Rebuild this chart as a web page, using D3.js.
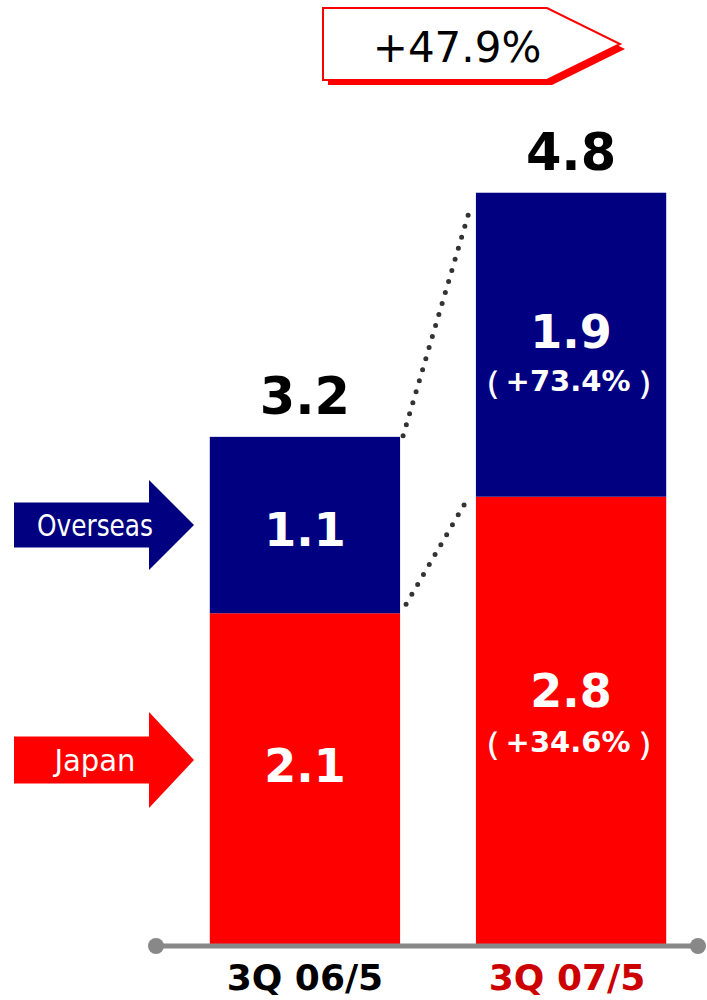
<!DOCTYPE html>
<html><head><meta charset="utf-8">
<script src="https://cdn.jsdelivr.net/npm/d3@7"></script>
<style>html,body{margin:0;padding:0;background:#fff;}svg{display:block;}</style>
</head><body>
<script>
const categories = ["3Q 06/5", "3Q 07/5"];
const japan = [2.10, 2.84];
const overseas = [1.12, 1.93];
const totalLabels = ["3.2", "4.8"];
const japanLabels = ["2.1", "2.8"];
const overseasLabels = ["1.1", "1.9"];
const japanGrowth = ["", "+34.6%"];
const overseasGrowth = ["", "+73.4%"];
const totalGrowth = "+47.9%";
const seriesNames = ["Japan", "Overseas"];

const W = 707, H = 1000;
const FONT = "'DejaVu Sans', Verdana, sans-serif";
const RED = "#ff0000", NAVY = "#000080";

const svg = d3.select("body").append("svg").attr("width", W).attr("height", H);

const x = d3.scaleBand().domain(categories).range([172, 704]).paddingInner(0.285).paddingOuter(0.142);
const y = d3.scaleLinear().domain([0, 6]).range([944, -1]);

const data = categories.map((c, i) => ({c, i, j: japan[i], o: overseas[i], t: japan[i] + overseas[i]}));

// bars
const g = svg.append("g");
g.selectAll("rect.jp").data(data).join("rect")
  .attr("x", d => x(d.c)).attr("width", x.bandwidth())
  .attr("y", d => y(d.j)).attr("height", d => y(0) - y(d.j)).attr("fill", RED);
g.selectAll("rect.os").data(data).join("rect")
  .attr("x", d => x(d.c)).attr("width", x.bandwidth())
  .attr("y", d => y(d.t)).attr("height", d => y(d.j) - y(d.t)).attr("fill", NAVY);

// dotted connectors
const d0 = data[0], d1 = data[1];
const x0r = x(d0.c) + x.bandwidth(), x1l = x(d1.c);
const dots = svg.append("g").attr("stroke", "#333").attr("stroke-width", 5)
  .attr("stroke-linecap", "round").attr("stroke-dasharray", "0 11.5").attr("fill", "none");
dots.append("line").attr("x1", x0r + 3).attr("y1", y(d0.t) - 1).attr("x2", x1l - 5).attr("y2", y(d1.t) + 13);
dots.append("line").attr("x1", x0r + 6).attr("y1", y(d0.j) - 9).attr("x2", x1l - 10).attr("y2", y(d1.j) + 5);

// axis line
const ax = svg.append("g");
ax.append("line").attr("x1", 155).attr("x2", 698).attr("y1", 946).attr("y2", 946)
  .attr("stroke", "#888").attr("stroke-width", 5);
ax.append("circle").attr("cx", 156).attr("cy", 946).attr("r", 8).attr("fill", "#888");
ax.append("circle").attr("cx", 698).attr("cy", 946).attr("r", 8).attr("fill", "#888");
ax.selectAll("text.cat").data(data).join("text")
  .attr("x", d => x(d.c) + x.bandwidth() / 2 + (d.i === 0 ? 0 : -4)).attr("y", 990)
  .attr("text-anchor", "middle").attr("font-family", FONT).attr("font-weight", "bold")
  .attr("font-size", 36).attr("fill", (d, i) => i === 0 ? "#000" : "#cc0000")
  .text(d => d.c);

// total labels
svg.selectAll("text.tot").data(data).join("text")
  .attr("x", d => x(d.c) + x.bandwidth() / 2).attr("y", d => y(d.t) - 23)
  .attr("text-anchor", "middle").attr("font-family", FONT).attr("font-weight", "bold")
  .attr("font-size", 51).attr("fill", "#000").text((d, i) => totalLabels[i]);

// inside labels
function inside(key, labels, growth, offSingle, offVal, offGrowth) {
  data.forEach((d, i) => {
    const top = key === "j" ? y(d.j) : y(d.t);
    const bot = key === "j" ? y(0) : y(d.j);
    const cx = x(d.c) + x.bandwidth() / 2;
    const cy = (top + bot) / 2;
    svg.append("text").attr("x", cx).attr("y", cy + (growth[i] ? offVal : offSingle))
      .attr("text-anchor", "middle").attr("font-family", FONT).attr("font-weight", "bold")
      .attr("font-size", 46).attr("fill", "#fff").text(labels[i]);
    if (growth[i]) {
      const gy = cy + offGrowth;
      const attrs = (s, fs) => s.attr("text-anchor", "middle").attr("font-family", FONT)
        .attr("font-weight", "bold").attr("font-size", fs).attr("fill", "#fff");
      svg.append("text").attr("x", cx - 3).attr("y", gy).call(attrs, 29).text(growth[i]);
      svg.append("text").attr("x", cx - 86).attr("y", gy + 2).call(attrs, 32).text("（");
      svg.append("text").attr("x", cx + 82).attr("y", gy + 2).call(attrs, 32).text("）");
    }
  });
}
inside("j", japanLabels, japanGrowth, 3, -13, 32);
inside("o", overseasLabels, overseasGrowth, 21, 3, 46);

// legend arrows
function arrow(name, color, cy, bodyH, headH, tx, tlen) {
  const x0 = 14, xb = 149, xt = 194;
  const pts = [[x0, cy - bodyH / 2], [xb, cy - bodyH / 2], [xb, cy - headH / 2], [xt, cy],
    [xb, cy + headH / 2], [xb, cy + bodyH / 2], [x0, cy + bodyH / 2]];
  svg.append("polygon").attr("points", pts.map(p => p.join(",")).join(" ")).attr("fill", color);
  svg.append("text").attr("x", tx).attr("y", cy + 11).attr("text-anchor", "middle")
    .attr("font-family", FONT).attr("font-size", 31).attr("fill", "#fff")
    .attr("textLength", tlen).attr("lengthAdjust", "spacingAndGlyphs").text(name);
}
arrow(seriesNames[1], NAVY, 525, 45, 90, 95, 116);
arrow(seriesNames[0], RED, 760, 47, 96, 95, 81);

// growth callout
const cg = svg.append("g");
const cpts = (dx, dy) => [[323 + dx, 8 + dy], [547 + dx, 8 + dy], [620 + dx, 44 + dy], [547 + dx, 80 + dy], [323 + dx, 80 + dy]]
  .map(p => p.join(",")).join(" ");
cg.append("polygon").attr("points", cpts(5, 5)).attr("fill", RED);
cg.append("polygon").attr("points", cpts(0, 0)).attr("fill", "#fff").attr("stroke", RED).attr("stroke-width", 2);
cg.append("text").attr("x", 457).attr("y", 62).attr("text-anchor", "middle")
  .attr("font-family", FONT).attr("font-size", 42).attr("fill", "#000").text(totalGrowth);
</script>
</body></html>
